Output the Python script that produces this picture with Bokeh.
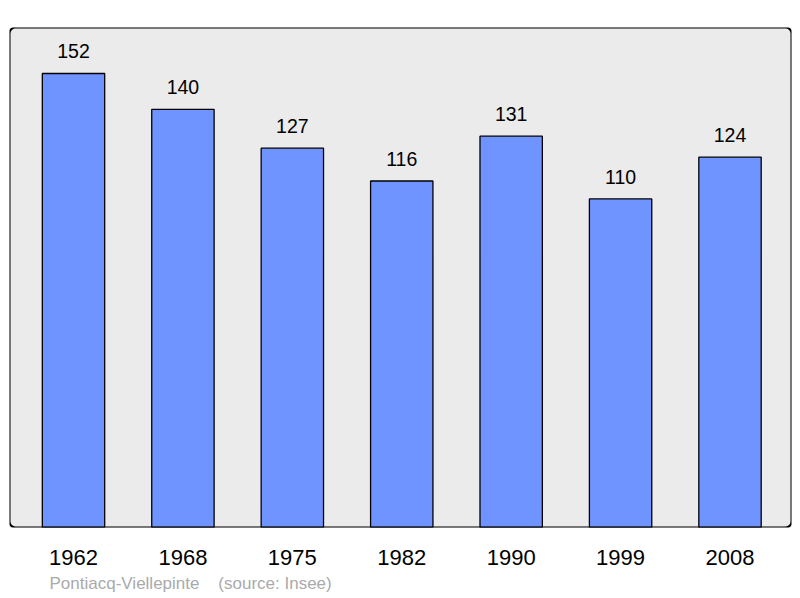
from bokeh.plotting import figure
from bokeh.models import ColumnDataSource, LabelSet, Title, FixedTicker, BoxAnnotation
from bokeh.core.properties import value
from bokeh.embed import file_html
from bokeh.resources import INLINE

years = ["1962", "1968", "1975", "1982", "1990", "1999", "2008"]
population = [152, 140, 127, 116, 131, 110, 124]
caption = "Pontiacq-Viellepinte\u00a0\u00a0\u00a0\u00a0(source: Insee)"

idx = list(range(len(years)))
src = ColumnDataSource(dict(x=idx, top=population, label=[str(v) for v in population]))

p = figure(width=800, height=598, output_backend="svg", toolbar_location=None,
           x_range=(-0.585, 6.562), y_range=(0, 167.4),
           min_border_left=9, min_border_right=9, min_border_top=27, min_border_bottom=71)
p.background_fill_color = "#EBEBEB"
p.border_fill_color = "white"
p.outline_line_color = None
p.grid.visible = False
p.yaxis.visible = False

frame_box = BoxAnnotation(fill_color=None, fill_alpha=0, line_color="black", line_alpha=1.0,
                          line_width=2, border_radius=6, level="overlay")
p.add_layout(frame_box)

p.vbar(x="x", top="top", bottom=0, width=0.57, source=src,
       fill_color="#7094FF", line_color="black", line_width=1.3)

labels = LabelSet(x="x", y="top", text="label", source=src, y_offset=15,
                  text_align="center", text_baseline="bottom",
                  text_font=value("Liberation Sans"), text_font_size=value("19.5px"),
                  text_color="black")
p.add_layout(labels)

xa = p.xaxis[0]
xa.ticker = FixedTicker(ticks=idx)
xa.major_label_overrides = {i: y for i, y in zip(idx, years)}
xa.axis_line_color = None
xa.major_tick_line_color = None
xa.minor_tick_line_color = None
xa.major_label_text_font = "Liberation Sans"
xa.major_label_text_font_size = "22px"
xa.major_label_text_color = "black"
xa.major_label_standoff = 16

t = Title(text=caption, align="left", offset=40, text_font="Liberation Sans",
          text_font_size="17px", text_font_style="normal", text_color="#AAAAAA", standoff=9)
p.add_layout(t, "below")

open("out.html", "w").write(file_html(p, INLINE))
